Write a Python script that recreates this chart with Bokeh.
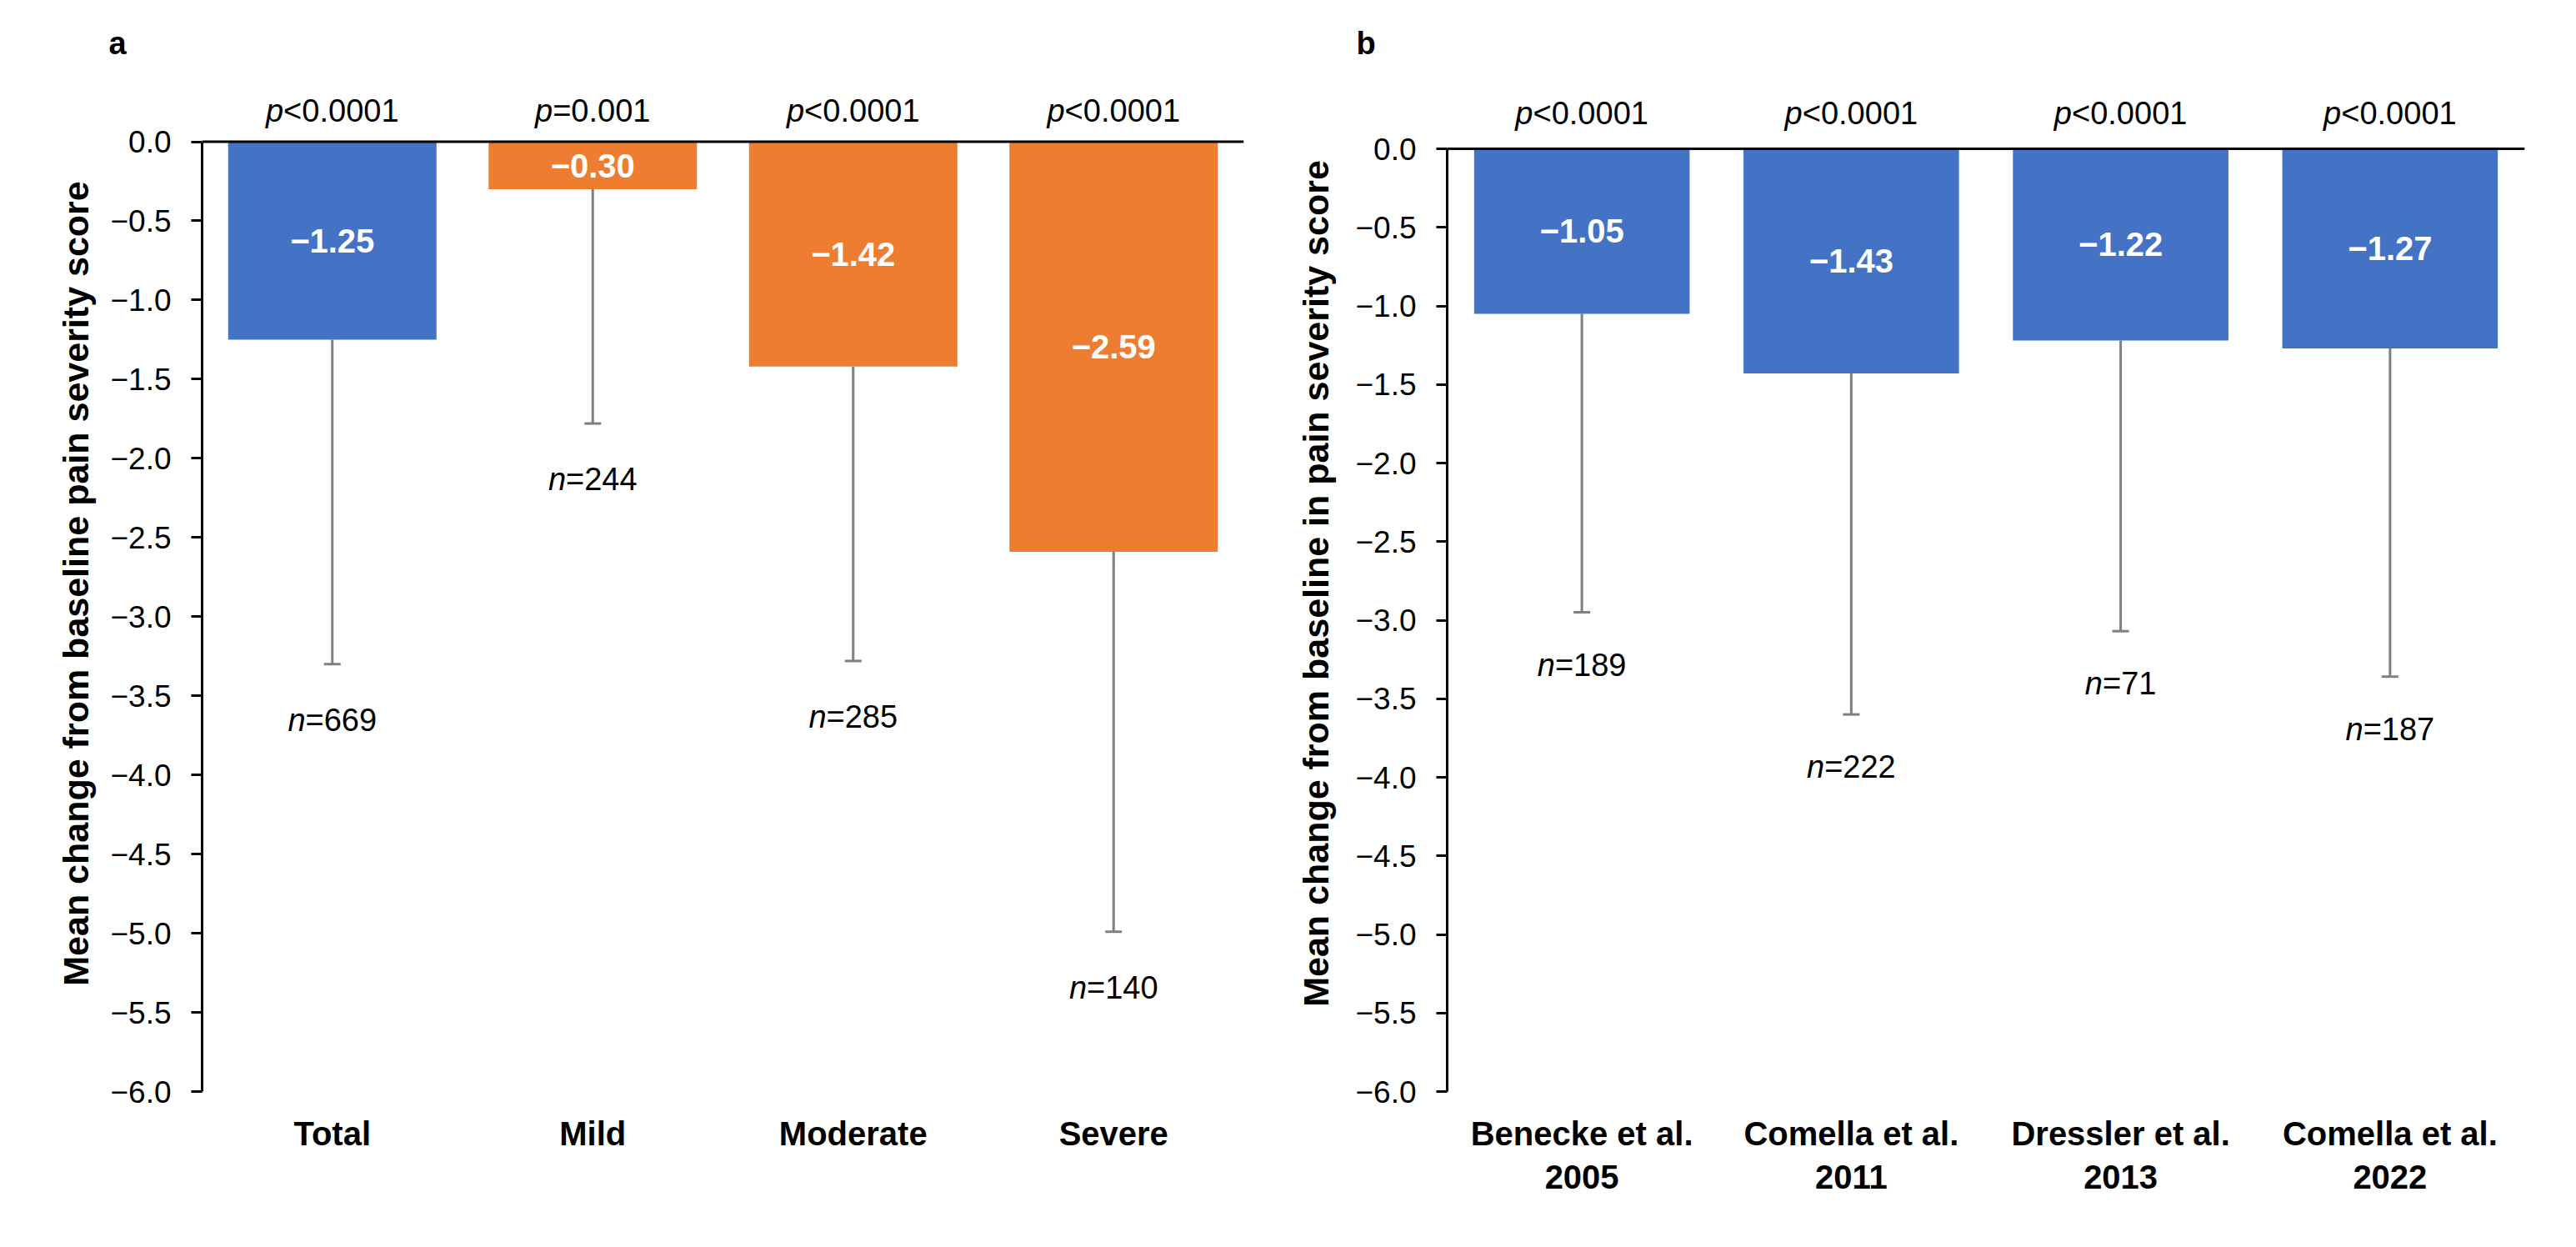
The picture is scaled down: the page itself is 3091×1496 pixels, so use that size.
from bokeh.plotting import figure
from bokeh.models import (ColumnDataSource, FactorRange, Range1d, FixedTicker,
                          CustomJSTickFormatter, Span)
from bokeh.layouts import row
from bokeh.embed import file_html
from bokeh.resources import INLINE
from bokeh.core.properties import value

FONT = "Liberation Sans"

# ---------------- data ----------------
cats_a = ["Total", "Mild", "Moderate", "Severe"]
means_a = [-1.25, -0.30, -1.42, -2.59]
lower_a = [-3.30, -1.78, -3.28, -4.99]
n_a = [669, 244, 285, 140]
p_a = ["<0.0001", "=0.001", "<0.0001", "<0.0001"]
group_a = ["total", "subgroup", "subgroup", "subgroup"]

cats_b = ["Benecke et al.\n2005", "Comella et al.\n2011",
          "Dressler et al.\n2013", "Comella et al.\n2022"]
means_b = [-1.05, -1.43, -1.22, -1.27]
lower_b = [-2.95, -3.60, -3.07, -3.36]
n_b = [189, 222, 71, 187]
p_b = ["<0.0001", "<0.0001", "<0.0001", "<0.0001"]
group_b = ["total", "total", "total", "total"]

yticks = [0.0, -0.5, -1.0, -1.5, -2.0, -2.5, -3.0, -3.5, -4.0, -4.5,
          -5.0, -5.5, -6.0]
ylabel_a = "Mean change from baseline pain severity score"
ylabel_b = "Mean change from baseline in pain severity score"

COLORS = {"total": "#4472C4", "subgroup": "#ED7D31"}

# approximate Arial / Liberation Sans advance widths (em)
ADV = {c: 0.556 for c in "0123456789pn"}
ADV.update({".": 0.278, "<": 0.584, "=": 0.584})


def tw(s, size):
    return sum(ADV.get(c, 0.556) for c in s) * size


def fmt(v):
    return f"{v:.2f}".replace("-", "\u2212")


def panel(cats, means, lower, ns, ps, groups, ylabel, letter,
          width, height, bl, br, bt, bb, ytop, p_off, n_off,
          title_standoff, letter_offset):
    TS = 38
    p_pre = ["p"] * len(ps)
    n_pre = ["n"] * len(ns)
    n_rest = [f"={v}" for v in ns]
    p_tot = [tw("p" + r, TS) for r in ps]
    n_tot = [tw("n" + r, TS) for r in n_rest]
    src = ColumnDataSource(dict(
        cat=cats, mean=means, lower=lower,
        mid=[m / 2 for m in means],
        zero=[0.0] * len(cats),
        vlab=[fmt(m) for m in means],
        color=[COLORS[g] for g in groups],
        p_pre=p_pre, p_rest=ps,
        p_x0=[-t / 2 for t in p_tot],
        p_x1=[-t / 2 + tw("p", TS) for t in p_tot],
        n_pre=n_pre, n_rest=n_rest,
        n_x0=[-t / 2 for t in n_tot],
        n_x1=[-t / 2 + tw("n", TS) for t in n_tot],
    ))

    p = figure(x_range=FactorRange(factors=cats), y_range=Range1d(-6, ytop),
               width=width, height=height, output_backend="svg",
               toolbar_location=None, min_border_left=bl, min_border_right=br,
               min_border_top=bt, min_border_bottom=bb, title=letter)
    p.outline_line_color = None
    p.xgrid.grid_line_color = None
    p.ygrid.grid_line_color = None
    p.background_fill_color = "white"

    p.title.align = "left"
    p.title.offset = letter_offset
    p.title.standoff = 36
    p.title.vertical_align = "bottom"
    p.title.text_font = FONT
    p.title.text_font_style = "bold"
    p.title.text_font_size = "38px"
    p.title.text_color = "black"

    p.vbar(x="cat", top="zero", bottom="mean", width=0.8, fill_color="color",
           line_color=None, source=src)
    p.segment(x0="cat", y0="mean", x1="cat", y1="lower", line_color="#7F7F7F",
              line_width=3, source=src)
    p.scatter(x="cat", y="lower", marker="dash", size=20, line_color="#7F7F7F",
              line_width=3, source=src)

    p.add_layout(Span(location=0, dimension="width", line_color="black",
                      line_width=3))

    # value labels inside bars
    p.text(x="cat", y="mid", text="vlab", source=src, text_color="white",
           text_font=value(FONT), text_font_style="bold",
           text_font_size="40px", text_align="center",
           text_baseline="middle")

    # p-value labels
    p.text(x="cat", y="zero", text="p_pre", x_offset="p_x0", y_offset=p_off,
           source=src, text_font=value(FONT), text_font_style="italic",
           text_font_size=f"{TS}px", text_align="left",
           text_baseline="alphabetic", text_color="black")
    p.text(x="cat", y="zero", text="p_rest", x_offset="p_x1", y_offset=p_off,
           source=src, text_font=value(FONT), text_font_size=f"{TS}px",
           text_align="left", text_baseline="alphabetic", text_color="black")

    # n labels
    p.text(x="cat", y="lower", text="n_pre", x_offset="n_x0", y_offset=n_off,
           source=src, text_font=value(FONT), text_font_style="italic",
           text_font_size=f"{TS}px", text_align="left",
           text_baseline="middle", text_color="black")
    p.text(x="cat", y="lower", text="n_rest", x_offset="n_x1", y_offset=n_off,
           source=src, text_font=value(FONT), text_font_size=f"{TS}px",
           text_align="left", text_baseline="middle", text_color="black")

    # y axis
    ya = p.yaxis[0]
    ya.ticker = FixedTicker(ticks=yticks)
    ya.formatter = CustomJSTickFormatter(
        code="return tick.toFixed(1).replace('-', '\\u2212');")
    ya.bounds = (-6, 0)
    ya.axis_line_width = 3
    ya.axis_line_color = "black"
    ya.major_tick_line_width = 3
    ya.major_tick_line_color = "black"
    ya.major_tick_out = 13
    ya.major_tick_in = 0
    ya.minor_tick_line_color = None
    ya.major_label_text_font = FONT
    ya.major_label_text_font_size = "37px"
    ya.major_label_text_color = "black"
    ya.major_label_standoff = 24
    ya.axis_label = ylabel
    ya.axis_label_text_font = FONT
    ya.axis_label_text_font_style = "bold"
    ya.axis_label_text_font_size = "43px"
    ya.axis_label_text_color = "black"
    ya.axis_label_standoff = title_standoff

    # x axis
    xa = p.xaxis[0]
    xa.axis_line_color = None
    xa.major_tick_line_color = None
    xa.major_tick_out = 0
    xa.major_tick_in = 0
    xa.minor_tick_line_color = None
    xa.major_label_text_font = FONT
    xa.major_label_text_font_style = "bold"
    xa.major_label_text_font_size = "40px"
    xa.major_label_text_color = "black"
    xa.major_label_standoff = 28
    return p


pa = panel(cats_a, means_a, lower_a, n_a, p_a, group_a, ylabel_a, "a",
           width=1522, height=1476, bl=242, br=30, bt=90, bb=160,
           ytop=80 / 191, p_off=-37, n_off=67, title_standoff=14,
           letter_offset=-112)
pb = panel(cats_b, means_b, lower_b, n_b, p_b, group_b, ylabel_b, "b",
           width=1548, height=1476, bl=214, br=41, bt=90, bb=167,
           ytop=88 / 188.5, p_off=-43, n_off=63, title_standoff=20,
           letter_offset=-109)

layout = row(pa, pb)
open("out.html", "w").write(file_html(layout, INLINE))
